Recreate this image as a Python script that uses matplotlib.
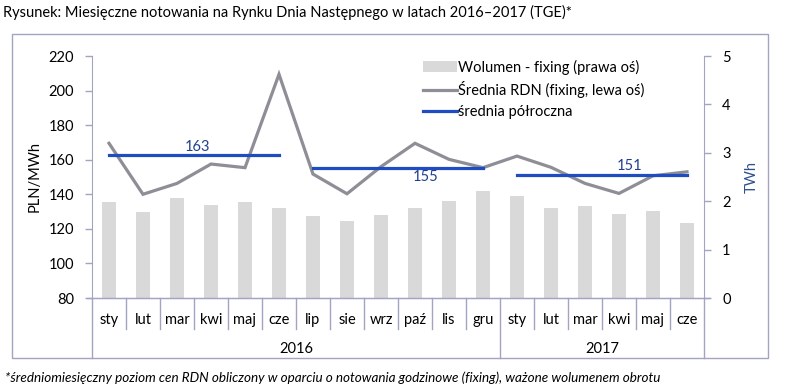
import matplotlib.pyplot as plt
import matplotlib.transforms as mtransforms
from matplotlib.patches import Rectangle, Patch
from matplotlib.lines import Line2D

plt.rcParams['font.family'] = ['Lato', 'DejaVu Sans']

# Dane
miesiace = ['sty', 'lut', 'mar', 'kwi', 'maj', 'cze', 'lip', 'sie', 'wrz', 'paź', 'lis', 'gru',
            'sty', 'lut', 'mar', 'kwi', 'maj', 'cze']
lata = ['2016', '2017']
miesiace_w_roku = [12, 6]

cena_rdn = [169.5, 140.0, 146.3, 157.5, 155.4, 209.4, 151.7, 140.3, 156.0, 169.5, 160.2, 155.4,
            162.1, 155.6, 146.3, 140.5, 150.7, 153.0]
wolumen = [1.98, 1.78, 2.06, 1.92, 1.98, 1.85, 1.70, 1.59, 1.71, 1.85, 2.00, 2.21,
           2.11, 1.85, 1.90, 1.73, 1.79, 1.55]

# średnie półroczne: (pierwszy miesiąc, ostatni miesiąc, wartość)
polrocza = [(0, 5, 163), (6, 11, 155), (12, 17, 151)]
etykiety_srednich = [(2.6, 167.5), (9.3, 149.8), (15.3, 156.3)]

kolor_osi = '#a3a4c4'
szary = '#8e8e96'
niebieski = '#1f4cc0'

fig = plt.figure(figsize=(7.86, 3.88), dpi=100)
ax = fig.add_axes([92 / 786, 90 / 388, 612 / 786, 242 / 388])
ax2 = ax.twinx()

x = list(range(len(miesiace)))

# Słupki - wolumen (prawa oś)
ax2.bar(x, wolumen, width=0.4, color='#d9d9d9', zorder=1)
ax2.set_ylim(0, 5)
ax2.set_yticks(range(0, 6))

# Linie na lewej osi
ax.set_zorder(ax2.get_zorder() + 1)
ax.patch.set_visible(False)
ax.plot(x, cena_rdn, color=szary, lw=2.3, solid_joinstyle='miter')
for (a, b, v), (tx, ty) in zip(polrocza, etykiety_srednich):
    ax.plot([a, b], [v, v], color=niebieski, lw=2.3)
    ax.text(tx, ty, str(v), ha='center', va='center', fontsize=10.5, color='#1f3f8f')

ax.set_ylim(80, 220)
ax.set_yticks(range(80, 221, 20))
ax.set_xlim(-0.5, len(miesiace) - 0.5)
ax.set_xticks([])
ax.set_ylabel('PLN/MWh', fontsize=10.5)
ax.yaxis.set_label_coords(-0.082, 0.5)
ax2.set_ylabel('TWh', fontsize=10.5, color='#2f4f8f')
ax2.yaxis.set_label_coords(1.067, 0.5)

for a in (ax, ax2):
    for s in a.spines.values():
        s.set_visible(False)
    a.tick_params(axis='y', length=5, width=1, color=kolor_osi, labelsize=10.5, pad=8)
ax.spines['left'].set_visible(True)
ax.spines['left'].set_color(kolor_osi)
ax2.spines['right'].set_visible(True)
ax2.spines['right'].set_color(kolor_osi)
ax.spines['bottom'].set_visible(True)
ax.spines['bottom'].set_color(kolor_osi)

# Tabela pod osią X
tr = mtransforms.blended_transform_factory(ax.transData, ax.transAxes)
granice_lat = [-0.5]
for n in miesiace_w_roku:
    granice_lat.append(granice_lat[-1] + n)
for i in range(1, len(miesiace)):
    xb = i - 0.5
    if xb in granice_lat:
        continue
    ax.plot([xb, xb], [0, -0.128], transform=tr, color=kolor_osi, lw=1, clip_on=False)
for xb in granice_lat:
    ax.plot([xb, xb], [0, -0.246], transform=tr, color=kolor_osi, lw=1, clip_on=False)
ax.plot([-0.5 - 0.15, len(miesiace) - 0.5 + 0.15], [0, 0], transform=tr, color=kolor_osi,
        lw=1, clip_on=False)
for i, m in enumerate(miesiace):
    ax.text(i, -0.091, m, transform=tr, ha='center', va='center', fontsize=10.5)
for rok, a, b in zip(lata, granice_lat[:-1], granice_lat[1:]):
    ax.text((a + b) / 2, -0.211, rok, transform=tr, ha='center', va='center', fontsize=10.5)

# Legenda
uchwyty = [Patch(facecolor='#d9d9d9', edgecolor='none'),
           Line2D([], [], color=szary, lw=2.3),
           Line2D([], [], color=niebieski, lw=2.3)]
opisy = ['Wolumen - fixing (prawa oś)', 'Średnia RDN (fixing, lewa oś)', 'średnia półroczna']
ax.legend(uchwyty, opisy, loc='upper left', bbox_to_anchor=(0.52, 1.04), frameon=False,
          fontsize=10.5, handlelength=2.3, handletextpad=0.1, labelspacing=0.45)

# Ramka
fig.patches.append(Rectangle((12 / 786, 30.5 / 388), 756 / 786, 323.5 / 388,
                             transform=fig.transFigure, fill=False, edgecolor=kolor_osi, lw=1))

fig.text(3 / 786, 1 - 12 / 388, 'Rysunek: Miesięczne notowania na Rynku Dnia Następnego w latach 2016–2017 (TGE)*',
         fontsize=10.5, va='center', ha='left')
fig.text(5 / 786, 1 - 378 / 388,
         '*średniomiesięczny poziom cen RDN obliczony w oparciu o notowania godzinowe (fixing), ważone wolumenem obrotu',
         fontsize=9.7, style='italic', va='center', ha='left')

fig.savefig('out.png', dpi=100)
